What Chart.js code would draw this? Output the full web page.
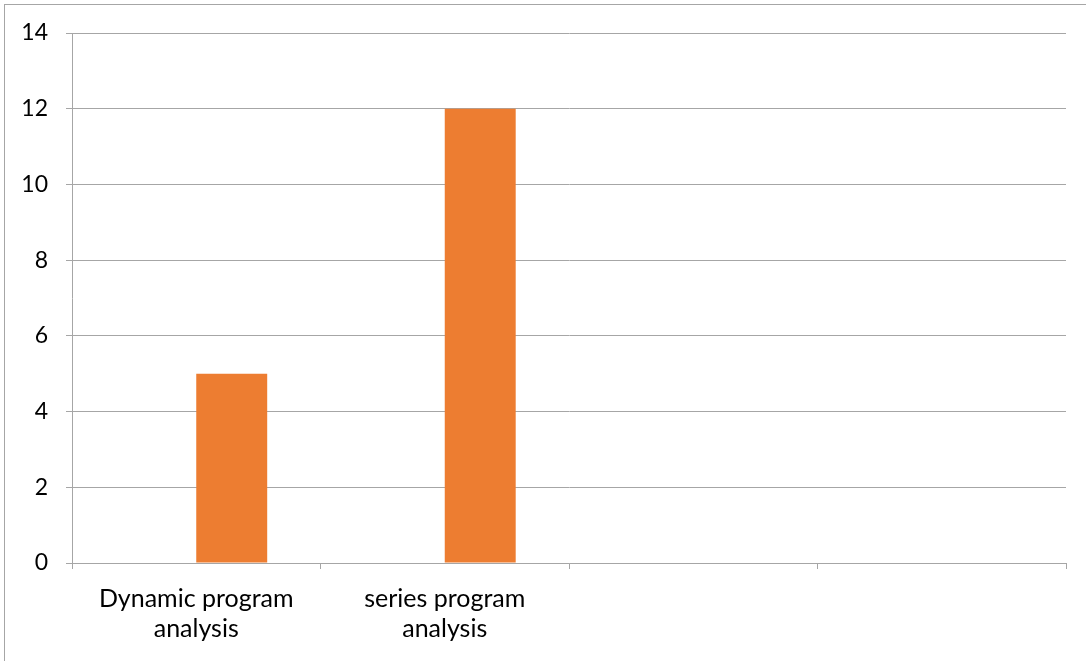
<!DOCTYPE html>
<html>
<head>
<meta charset="utf-8">
<script src="https://cdn.jsdelivr.net/npm/chart.js@4"></script>
<style>
    html, body { margin: 0; padding: 0; background: #fff; overflow: hidden; }
    #wrap { position: relative; width: 1086px; height: 661px; overflow: hidden; }
    #frame { position: absolute; left: 4px; top: 4px; width: 1200px; height: 800px; border: 1px solid #a6a6a6; }
    canvas { position: absolute; left: 0; top: 0; }
</style>
</head>
<body>
<div id="wrap">
    <div id="frame"></div>
    <canvas id="programchart" width="1086" height="661"></canvas>
</div>
<script>
var Categories = [["Dynamic program", "analysis"], ["series program", "analysis"], "", ""];
var SeriesOne = [null, null, null, null];
var SeriesTwo = [5, 12, null, null];
var YTicks = [0, 2, 4, 6, 8, 10, 12, 14];

function BindBarChart() {
    var gridColor = '#a6a6a6';
    var ctx = document.getElementById("programchart");
    new Chart(ctx, {
        type: 'bar',
        data: {
            labels: Categories,
            datasets: [
                { label: 'Series1', data: SeriesOne, backgroundColor: '#4472c4' },
                { label: 'Series2', data: SeriesTwo, backgroundColor: '#ed7d31' }
            ]
        },
        options: {
            responsive: false,
            animation: false,
            layout: { padding: { top: 33, right: 20, left: 0, bottom: 0 } },
            datasets: {
                bar: { categoryPercentage: 0.571, barPercentage: 1.0 }
            },
            plugins: {
                legend: { display: false },
                title: { display: false },
                tooltip: { enabled: false }
            },
            scales: {
                x: {
                    offset: true,
                    grid: { offset: true, drawOnChartArea: false, drawTicks: true, tickLength: 6, color: gridColor },
                    border: { display: true, color: gridColor },
                    ticks: { color: '#000', padding: 15, maxRotation: 0, autoSkip: false, font: { family: 'Lato', size: 25, lineHeight: 1.2 } },
                    afterFit: function (scale) { scale.height = 98; }
                },
                y: {
                    min: 0,
                    max: 14,
                    afterBuildTicks: function (scale) {
                        scale.ticks = YTicks.map(function (v) { return { value: v }; });
                    },
                    grid: { color: gridColor, drawTicks: true, tickLength: 6 },
                    border: { display: true, color: gridColor },
                    ticks: { color: '#000', padding: 18, font: { family: 'Lato', size: 23 } },
                    afterFit: function (scale) { scale.width = 72; }
                }
            }
        }
    });
}
BindBarChart();
</script>
</body>
</html>
